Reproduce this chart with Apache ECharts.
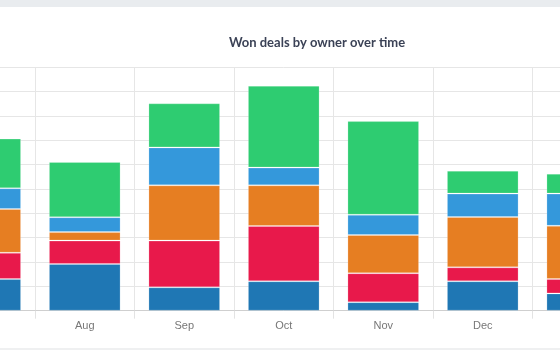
<!DOCTYPE html>
<html>
<head>
<meta charset="utf-8">
<script src="https://cdn.jsdelivr.net/npm/echarts@6/dist/echarts.min.js"></script>
<style>
  html, body { margin: 0; padding: 0; width: 560px; height: 350px; overflow: hidden; background: #eff0f1; }
  #topbar { position: absolute; left: 0; top: 0; width: 560px; height: 7px; background: #e9ecef; }
  #card { position: absolute; left: 0; top: 7px; width: 560px; height: 341px; background: #fff; overflow: hidden; }
  #chart { position: absolute; left: -140px; top: 0; width: 914px; height: 341px; }
</style>
</head>
<body>
<div id="topbar"></div>
<div id="card"><div id="chart"></div></div>
<script>
// Months on the category axis
const months = ['Jul', 'Aug', 'Sep', 'Oct', 'Nov', 'Dec', 'Jan'];

// Won deals per owner, stacked bottom to top
const ownerA = [13.0, 19.2, 9.6, 12.1, 3.5, 12.1, 7.1];
const ownerB = [10.8, 9.6, 19.2, 22.7, 11.9, 5.7, 5.9];
const ownerC = [18.0, 3.5, 22.7, 16.7, 15.7, 20.7, 21.9];
const ownerD = [8.5, 6.1, 15.6, 7.3, 8.3, 9.6, 13.2];
const ownerE = [20.4, 22.7, 18.1, 33.6, 38.5, 9.4, 8.2];

const ownerNames = ['Alex', 'Jordan', 'Morgan', 'Taylor', 'Casey'];
const ownerColors = ['#1f77b4', '#e8194b', '#e67e22', '#3498db', '#2ecc71'];
const ownerValues = [ownerA, ownerB, ownerC, ownerD, ownerE];

const chart = echarts.init(document.getElementById('chart'), null, { renderer: 'canvas' });

chart.setOption({
  animation: false,
  title: {
    text: 'Won deals by owner over time',
    left: 'center',
    top: 24,
    textStyle: { fontFamily: 'Lato', fontSize: 13, fontWeight: 'bold', color: '#3b4256' }
  },
  grid: { left: 75.5, right: 142, top: 60.3, bottom: 37.3, containLabel: false },
  xAxis: {
    type: 'category',
    data: months,
    axisLine: { lineStyle: { color: '#cfcfcf' } },
    axisTick: { show: true, length: 8, lineStyle: { color: '#e3e3e3' } },
    splitLine: { show: true, lineStyle: { color: '#e6e6e6' } },
    axisLabel: { color: '#777777', fontFamily: 'Liberation Sans', fontSize: 11, margin: 10 }
  },
  yAxis: {
    type: 'value',
    min: 0,
    max: 100,
    interval: 10,
    axisLine: { show: false },
    axisTick: { show: false },
    splitLine: { lineStyle: { color: '#e6e6e6' } },
    axisLabel: { color: '#777777', fontSize: 11 }
  },
  series: ownerValues.map((vals, i) => ({
    name: ownerNames[i],
    type: 'bar',
    stack: 'won',
    barWidth: '72%',
    data: vals,
    itemStyle: {
      color: ownerColors[i],
      borderColor: 'rgba(255,255,255,0.2)',
      borderWidth: 1
    }
  }))
});
</script>
</body>
</html>
